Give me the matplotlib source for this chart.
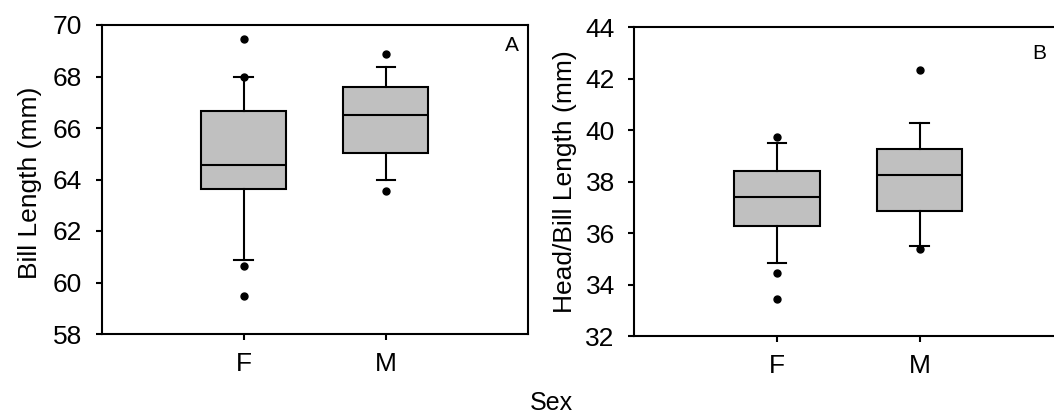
import matplotlib.pyplot as plt

plt.rcParams['font.family'] = ['Liberation Sans', 'DejaVu Sans']

sexes = ["F", "M"]

# panel A: bill length (mm)
bill_q1 = [63.62, 65.02]
bill_med = [64.56, 66.49]
bill_q3 = [66.66, 67.58]
bill_wlo = [60.89, 64.0]
bill_whi = [67.97, 68.37]
bill_out = [[69.46, 68.0, 60.65, 59.48], [68.87, 63.57]]

# panel B: head/bill length (mm)
hb_q1 = [36.29, 36.85]
hb_med = [37.39, 38.27]
hb_q3 = [38.40, 39.25]
hb_wlo = [34.82, 35.49]
hb_whi = [39.5, 40.28]
hb_out = [[39.75, 34.43, 33.45], [42.34, 35.39]]


def stats(q1, med, q3, wlo, whi, out):
    res = []
    for i in range(len(q1)):
        res.append(dict(q1=q1[i], med=med[i], q3=q3[i], whislo=wlo[i],
                        whishi=whi[i], fliers=out[i], label=sexes[i]))
    return res


W, H = 1054, 416
fig = plt.figure(figsize=(W / 100, H / 100), dpi=100)
ax1 = fig.add_axes([101.5 / W, 1 - 334 / H, 426.5 / W, 309 / H])
ax2 = fig.add_axes([634.3 / W, 1 - 336 / H, 428 / W, 308.7 / H])

lw = 1.5
box_kw = dict(
    positions=[1, 2], widths=0.6, capwidths=0.13, patch_artist=True,
    boxprops=dict(facecolor="#c0c0c0", edgecolor="black", linewidth=lw),
    medianprops=dict(color="black", linewidth=lw),
    whiskerprops=dict(color="black", linewidth=lw),
    capprops=dict(color="black", linewidth=lw),
    flierprops=dict(marker="o", markerfacecolor="black", markeredgecolor="black",
                    markersize=5),
)

ax1.bxp(stats(bill_q1, bill_med, bill_q3, bill_wlo, bill_whi, bill_out), **box_kw)
ax2.bxp(stats(hb_q1, hb_med, hb_q3, hb_wlo, hb_whi, hb_out), **box_kw)

ax1.set_ylim(58, 70)
ax1.set_yticks(range(58, 71, 2))
ax1.set_ylabel("Bill Length (mm)", fontsize=19)
ax1.yaxis.set_label_coords(-0.139, 0.49)
ax1.text(0.978, 0.935, "A", transform=ax1.transAxes, ha="right", va="center", fontsize=15)

ax2.set_ylim(32, 44)
ax2.set_yticks(range(32, 45, 2))
ax2.set_ylabel("Head/Bill Length (mm)", fontsize=19)
ax2.yaxis.set_label_coords(-0.134, 0.5)
ax2.text(0.963, 0.915, "B", transform=ax2.transAxes, ha="right", va="center", fontsize=15)

for ax in (ax1, ax2):
    ax.set_xlim(0, 3)
    ax.set_xticks([1, 2])
    ax.set_xticklabels(sexes)
    ax.tick_params(direction="out", length=4, width=lw, labelsize=19, pad=10)
    ax.tick_params(axis="x", pad=9)
    for s in ax.spines.values():
        s.set_linewidth(lw)

fig.text(551 / W, 1 - 403 / H, "Sex", ha="center", va="center", fontsize=18)

plt.savefig("out.png", dpi=100)
